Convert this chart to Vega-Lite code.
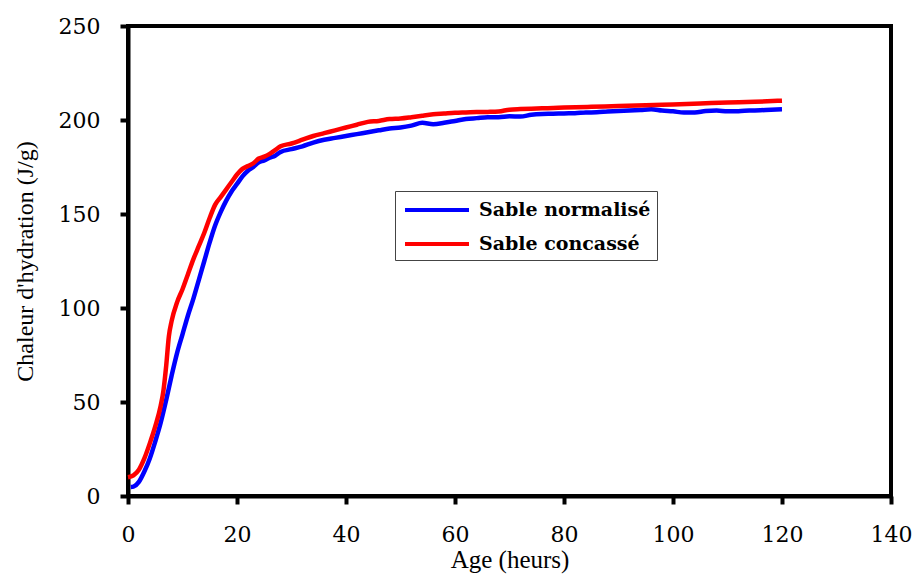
{
  "$schema": "https://vega.github.io/schema/vega-lite/v6.json",
  "width": 763,
  "height": 470,
  "autosize": {"type": "none"},
  "padding": {"left": 128, "top": 26, "right": 26, "bottom": 80},
  "background": "white",
  "config": {
    "font": "DejaVu Serif",
    "view": {"stroke": "black", "strokeWidth": 4},
    "axis": {"grid": false}
  },
  "data": {
    "values": [
      {"age": 0.5, "chaleur": 4.8, "serie": "Sable normalisé"},
      {"age": 1, "chaleur": 5, "serie": "Sable normalisé"},
      {"age": 2, "chaleur": 7.5, "serie": "Sable normalisé"},
      {"age": 3, "chaleur": 13, "serie": "Sable normalisé"},
      {"age": 4, "chaleur": 20, "serie": "Sable normalisé"},
      {"age": 5, "chaleur": 29, "serie": "Sable normalisé"},
      {"age": 6, "chaleur": 39, "serie": "Sable normalisé"},
      {"age": 7, "chaleur": 51, "serie": "Sable normalisé"},
      {"age": 8, "chaleur": 64, "serie": "Sable normalisé"},
      {"age": 9, "chaleur": 76, "serie": "Sable normalisé"},
      {"age": 10, "chaleur": 86, "serie": "Sable normalisé"},
      {"age": 11, "chaleur": 96, "serie": "Sable normalisé"},
      {"age": 12, "chaleur": 105, "serie": "Sable normalisé"},
      {"age": 13, "chaleur": 115, "serie": "Sable normalisé"},
      {"age": 14, "chaleur": 125, "serie": "Sable normalisé"},
      {"age": 15, "chaleur": 135, "serie": "Sable normalisé"},
      {"age": 16, "chaleur": 144, "serie": "Sable normalisé"},
      {"age": 17, "chaleur": 151, "serie": "Sable normalisé"},
      {"age": 18, "chaleur": 157, "serie": "Sable normalisé"},
      {"age": 19, "chaleur": 162, "serie": "Sable normalisé"},
      {"age": 20, "chaleur": 166, "serie": "Sable normalisé"},
      {"age": 21, "chaleur": 170, "serie": "Sable normalisé"},
      {"age": 22, "chaleur": 173, "serie": "Sable normalisé"},
      {"age": 23, "chaleur": 175, "serie": "Sable normalisé"},
      {"age": 24, "chaleur": 177.5, "serie": "Sable normalisé"},
      {"age": 25, "chaleur": 178.5, "serie": "Sable normalisé"},
      {"age": 26, "chaleur": 180, "serie": "Sable normalisé"},
      {"age": 27, "chaleur": 181, "serie": "Sable normalisé"},
      {"age": 28, "chaleur": 183, "serie": "Sable normalisé"},
      {"age": 30, "chaleur": 184.5, "serie": "Sable normalisé"},
      {"age": 32, "chaleur": 186, "serie": "Sable normalisé"},
      {"age": 34, "chaleur": 188, "serie": "Sable normalisé"},
      {"age": 36, "chaleur": 189.5, "serie": "Sable normalisé"},
      {"age": 38, "chaleur": 190.5, "serie": "Sable normalisé"},
      {"age": 40, "chaleur": 191.5, "serie": "Sable normalisé"},
      {"age": 42, "chaleur": 192.5, "serie": "Sable normalisé"},
      {"age": 44, "chaleur": 193.5, "serie": "Sable normalisé"},
      {"age": 46, "chaleur": 194.5, "serie": "Sable normalisé"},
      {"age": 48, "chaleur": 195.5, "serie": "Sable normalisé"},
      {"age": 50, "chaleur": 196, "serie": "Sable normalisé"},
      {"age": 52, "chaleur": 197, "serie": "Sable normalisé"},
      {"age": 54, "chaleur": 198.5, "serie": "Sable normalisé"},
      {"age": 56, "chaleur": 197.8, "serie": "Sable normalisé"},
      {"age": 58, "chaleur": 198.5, "serie": "Sable normalisé"},
      {"age": 60, "chaleur": 199.5, "serie": "Sable normalisé"},
      {"age": 62, "chaleur": 200.5, "serie": "Sable normalisé"},
      {"age": 64, "chaleur": 201, "serie": "Sable normalisé"},
      {"age": 66, "chaleur": 201.5, "serie": "Sable normalisé"},
      {"age": 68, "chaleur": 201.5, "serie": "Sable normalisé"},
      {"age": 70, "chaleur": 202, "serie": "Sable normalisé"},
      {"age": 72, "chaleur": 201.8, "serie": "Sable normalisé"},
      {"age": 74, "chaleur": 202.8, "serie": "Sable normalisé"},
      {"age": 76, "chaleur": 203.2, "serie": "Sable normalisé"},
      {"age": 78, "chaleur": 203.3, "serie": "Sable normalisé"},
      {"age": 80, "chaleur": 203.5, "serie": "Sable normalisé"},
      {"age": 82, "chaleur": 203.6, "serie": "Sable normalisé"},
      {"age": 84, "chaleur": 204, "serie": "Sable normalisé"},
      {"age": 86, "chaleur": 204.1, "serie": "Sable normalisé"},
      {"age": 88, "chaleur": 204.5, "serie": "Sable normalisé"},
      {"age": 90, "chaleur": 204.8, "serie": "Sable normalisé"},
      {"age": 92, "chaleur": 205, "serie": "Sable normalisé"},
      {"age": 94, "chaleur": 205.3, "serie": "Sable normalisé"},
      {"age": 96, "chaleur": 205.7, "serie": "Sable normalisé"},
      {"age": 98, "chaleur": 205, "serie": "Sable normalisé"},
      {"age": 100, "chaleur": 204.6, "serie": "Sable normalisé"},
      {"age": 102, "chaleur": 204, "serie": "Sable normalisé"},
      {"age": 104, "chaleur": 204, "serie": "Sable normalisé"},
      {"age": 106, "chaleur": 204.8, "serie": "Sable normalisé"},
      {"age": 108, "chaleur": 205, "serie": "Sable normalisé"},
      {"age": 110, "chaleur": 204.6, "serie": "Sable normalisé"},
      {"age": 112, "chaleur": 204.7, "serie": "Sable normalisé"},
      {"age": 114, "chaleur": 205, "serie": "Sable normalisé"},
      {"age": 116, "chaleur": 205.2, "serie": "Sable normalisé"},
      {"age": 118, "chaleur": 205.5, "serie": "Sable normalisé"},
      {"age": 120, "chaleur": 205.7, "serie": "Sable normalisé"},
      {"age": 0, "chaleur": 10, "serie": "Sable concassé"},
      {"age": 1, "chaleur": 11, "serie": "Sable concassé"},
      {"age": 2, "chaleur": 14, "serie": "Sable concassé"},
      {"age": 3, "chaleur": 20, "serie": "Sable concassé"},
      {"age": 4, "chaleur": 28, "serie": "Sable concassé"},
      {"age": 5, "chaleur": 37, "serie": "Sable concassé"},
      {"age": 6, "chaleur": 48, "serie": "Sable concassé"},
      {"age": 6.5, "chaleur": 56, "serie": "Sable concassé"},
      {"age": 7, "chaleur": 69, "serie": "Sable concassé"},
      {"age": 7.5, "chaleur": 85, "serie": "Sable concassé"},
      {"age": 8, "chaleur": 93, "serie": "Sable concassé"},
      {"age": 9, "chaleur": 103, "serie": "Sable concassé"},
      {"age": 10, "chaleur": 110, "serie": "Sable concassé"},
      {"age": 11, "chaleur": 118, "serie": "Sable concassé"},
      {"age": 12, "chaleur": 126, "serie": "Sable concassé"},
      {"age": 13, "chaleur": 133, "serie": "Sable concassé"},
      {"age": 14, "chaleur": 140, "serie": "Sable concassé"},
      {"age": 15, "chaleur": 148, "serie": "Sable concassé"},
      {"age": 16, "chaleur": 155, "serie": "Sable concassé"},
      {"age": 17, "chaleur": 159, "serie": "Sable concassé"},
      {"age": 18, "chaleur": 163, "serie": "Sable concassé"},
      {"age": 19, "chaleur": 167, "serie": "Sable concassé"},
      {"age": 20, "chaleur": 171, "serie": "Sable concassé"},
      {"age": 21, "chaleur": 174, "serie": "Sable concassé"},
      {"age": 22, "chaleur": 175.5, "serie": "Sable concassé"},
      {"age": 23, "chaleur": 177, "serie": "Sable concassé"},
      {"age": 24, "chaleur": 179.5, "serie": "Sable concassé"},
      {"age": 25, "chaleur": 180.5, "serie": "Sable concassé"},
      {"age": 26, "chaleur": 182, "serie": "Sable concassé"},
      {"age": 27, "chaleur": 184, "serie": "Sable concassé"},
      {"age": 28, "chaleur": 186, "serie": "Sable concassé"},
      {"age": 30, "chaleur": 187.5, "serie": "Sable concassé"},
      {"age": 32, "chaleur": 189.5, "serie": "Sable concassé"},
      {"age": 34, "chaleur": 191.5, "serie": "Sable concassé"},
      {"age": 36, "chaleur": 193, "serie": "Sable concassé"},
      {"age": 38, "chaleur": 194.5, "serie": "Sable concassé"},
      {"age": 40, "chaleur": 196, "serie": "Sable concassé"},
      {"age": 42, "chaleur": 197.5, "serie": "Sable concassé"},
      {"age": 44, "chaleur": 199, "serie": "Sable concassé"},
      {"age": 46, "chaleur": 199.5, "serie": "Sable concassé"},
      {"age": 48, "chaleur": 200.5, "serie": "Sable concassé"},
      {"age": 50, "chaleur": 200.8, "serie": "Sable concassé"},
      {"age": 52, "chaleur": 201.5, "serie": "Sable concassé"},
      {"age": 54, "chaleur": 202.3, "serie": "Sable concassé"},
      {"age": 56, "chaleur": 203, "serie": "Sable concassé"},
      {"age": 58, "chaleur": 203.4, "serie": "Sable concassé"},
      {"age": 60, "chaleur": 203.8, "serie": "Sable concassé"},
      {"age": 62, "chaleur": 204, "serie": "Sable concassé"},
      {"age": 64, "chaleur": 204.2, "serie": "Sable concassé"},
      {"age": 66, "chaleur": 204.3, "serie": "Sable concassé"},
      {"age": 68, "chaleur": 204.5, "serie": "Sable concassé"},
      {"age": 70, "chaleur": 205.5, "serie": "Sable concassé"},
      {"age": 72, "chaleur": 205.8, "serie": "Sable concassé"},
      {"age": 74, "chaleur": 206, "serie": "Sable concassé"},
      {"age": 76, "chaleur": 206.2, "serie": "Sable concassé"},
      {"age": 78, "chaleur": 206.4, "serie": "Sable concassé"},
      {"age": 80, "chaleur": 206.6, "serie": "Sable concassé"},
      {"age": 85, "chaleur": 207, "serie": "Sable concassé"},
      {"age": 90, "chaleur": 207.4, "serie": "Sable concassé"},
      {"age": 95, "chaleur": 207.8, "serie": "Sable concassé"},
      {"age": 100, "chaleur": 208.3, "serie": "Sable concassé"},
      {"age": 105, "chaleur": 208.8, "serie": "Sable concassé"},
      {"age": 110, "chaleur": 209.3, "serie": "Sable concassé"},
      {"age": 115, "chaleur": 209.7, "serie": "Sable concassé"},
      {"age": 120, "chaleur": 210.3, "serie": "Sable concassé"}
    ]
  },
  "mark": {"type": "line", "strokeWidth": 4.5, "interpolate": "monotone"},
  "encoding": {
    "x": {
      "field": "age", "type": "quantitative",
      "scale": {"domain": [0, 140], "nice": false, "zero": false},
      "axis": {
        "title": "Age (heurs)", "titleFont": "Liberation Serif", "titleFontSize": 25, "titleFontWeight": "normal", "titleColor": "black", "titlePadding": 2,
        "values": [0, 20, 40, 60, 80, 100, 120, 140],
        "labelFont": "DejaVu Serif", "labelFontSize": 22, "labelColor": "black", "labelPadding": 20, "labelFlush": false,
        "domainColor": "black", "domainWidth": 4,
        "tickColor": "black", "tickWidth": 4, "tickSize": 8
      }
    },
    "y": {
      "field": "chaleur", "type": "quantitative",
      "scale": {"domain": [0, 250], "nice": false},
      "axis": {
        "title": "Chaleur d'hydration  (J/g)", "titleFont": "Liberation Serif", "titleFontSize": 24, "titleFontWeight": "normal", "titleColor": "black", "titlePadding": 21,
        "values": [0, 50, 100, 150, 200, 250],
        "labelFont": "DejaVu Serif", "labelFontSize": 22, "labelColor": "black", "labelPadding": 20, "labelFlush": false,
        "domainColor": "black", "domainWidth": 4,
        "tickColor": "black", "tickWidth": 4, "tickSize": 8
      }
    },
    "color": {
      "field": "serie", "type": "nominal",
      "scale": {"domain": ["Sable normalisé", "Sable concassé"], "range": ["#0000FF", "#FF0000"]},
      "legend": {
        "title": null, "orient": "none", "legendX": 267, "legendY": 165,
        "symbolType": "M-3,0H3", "symbolSize": 455, "symbolStrokeWidth": 4, "symbolOffset": 23,
        "labelFont": "DejaVu Serif", "labelFontSize": 19, "labelFontWeight": "bold", "labelColor": "black", "labelOffset": 29, "labelLimit": 400,
        "strokeColor": "#444444", "padding": 6, "rowPadding": 11, "fillColor": "white"
      }
    }
  }
}
